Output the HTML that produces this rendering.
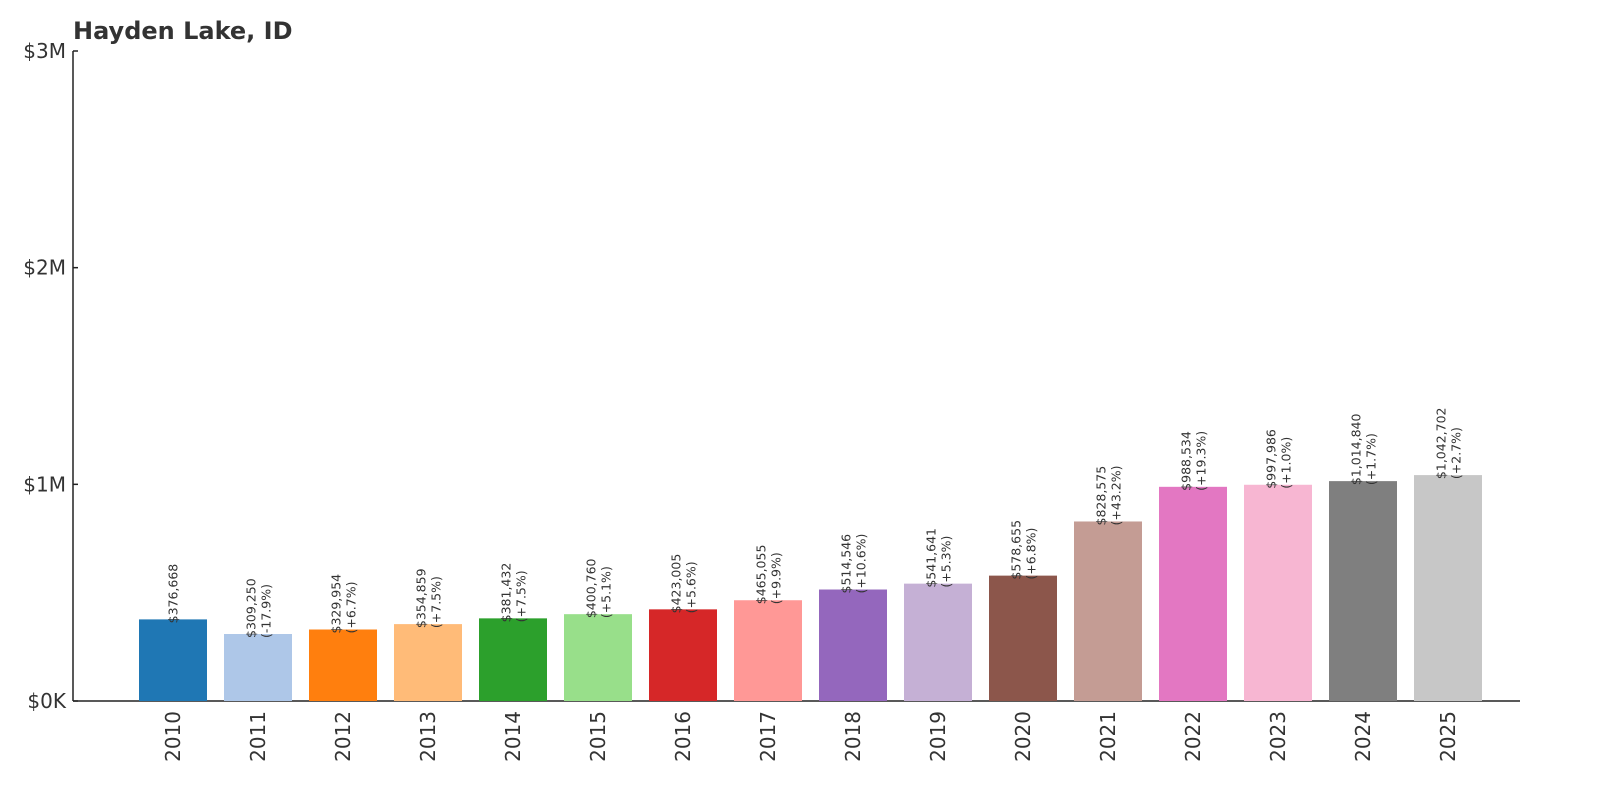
<!DOCTYPE html>
<html><head><meta charset="utf-8"><style>
body{margin:0;background:#fff}
svg{display:block;font-family:"DejaVu Sans","Liberation Sans",sans-serif}
</style></head><body>
<svg id="chart" width="1600" height="800" viewBox="0 0 1600 800">
<text x="73" y="39" font-size="24" font-weight="bold" fill="#333">Hayden Lake, ID</text>
<g id="axes"></g><g id="bars"></g>
</svg>
<script>
const years=["2010","2011","2012","2013","2014","2015","2016","2017","2018","2019","2020","2021","2022","2023","2024","2025"];
const values=[376668,309250,329954,354859,381432,400760,423005,465055,514546,541641,578655,828575,988534,997986,1014840,1042702];
const changes=["","-17.9%","+6.7%","+7.5%","+7.5%","+5.1%","+5.6%","+9.9%","+10.6%","+5.3%","+6.8%","+43.2%","+19.3%","+1.0%","+1.7%","+2.7%"];
const colors=["#1f77b4","#aec7e8","#ff7f0e","#ffbb78","#2ca02c","#98df8a","#d62728","#ff9896","#9467bd","#c5b0d5","#8c564b","#c49c94","#e377c2","#f7b6d2","#7f7f7f","#c7c7c7"];
const yTicks=[0,1000000,2000000,3000000];
const yTickLabels=["$0K","$1M","$2M","$3M"];
const NS="http://www.w3.org/2000/svg";
const y0=701,yTop=51,yMax=3000000;
const y=v=>y0-(v/yMax)*(y0-yTop);
const x=i=>173+i*85;
const bw=68;
function mk(tag,attrs,parent){const e=document.createElementNS(NS,tag);for(const k in attrs)e.setAttribute(k,attrs[k]);parent.appendChild(e);return e;}
const ax=document.getElementById('axes'),bg=document.getElementById('bars');
yTicks.forEach((t,i)=>{
 const tk=mk('line',{x1:73,x2:78,y1:y(t),y2:y(t),stroke:'#222','stroke-width':1.5},ax);
 
 
 const lb=mk('text',{x:66,y:y(t)+7,'text-anchor':'end','font-size':20,fill:'#333'},ax);
 lb.textContent=yTickLabels[i];
 
 
});
years.forEach((yr,i)=>{
 const cx=x(i),top=y(values[i]);
 const r=mk('rect',{x:cx-bw/2,y:top,width:bw,height:y0-top,fill:colors[i]},bg);
 
 
 const tk=mk('line',{x1:cx,x2:cx,y1:y0,y2:y0-5,stroke:'#222','stroke-width':1.5},ax);
 
 
 const xl=mk('text',{transform:`translate(${cx+7},${y0+10}) rotate(-90)`,'text-anchor':'end','font-size':20,fill:'#333'},ax);
 xl.textContent=yr;
 
 
 const t=mk('text',{transform:`translate(${cx},${top+4}) rotate(-90)`,'font-size':12.5,fill:'#333'},bg);
 
 
 const v='$'+values[i].toLocaleString('en-US');
 if(changes[i]){
  const a=mk('tspan',{x:0,y:-2.5},t);a.textContent=v;
  const b=mk('tspan',{x:0,y:12.5},t);b.textContent='('+changes[i]+')';
 } else {
  const a=mk('tspan',{x:0,y:4.5},t);a.textContent=v;
 }
});
const yl=mk('line',{x1:73,x2:73,y1:yTop,y2:y0,stroke:'#222','stroke-width':1.5},ax);


const xl=mk('line',{x1:73,x2:1520,y1:y0,y2:y0,stroke:'#222','stroke-width':1.5},ax);


</script>
</body></html>
